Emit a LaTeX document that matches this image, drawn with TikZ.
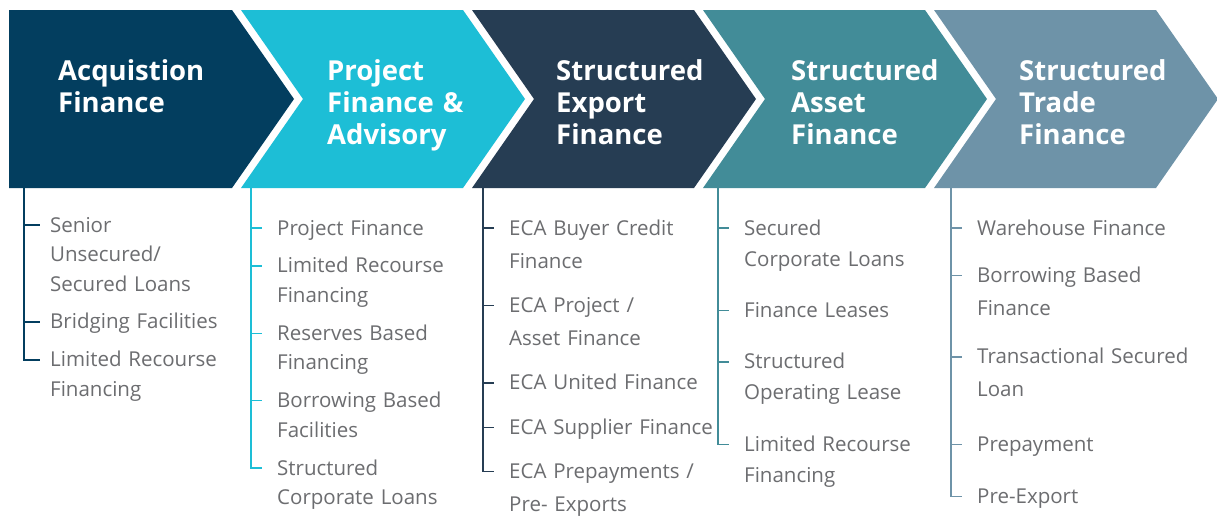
\documentclass[tikz,border=0pt]{standalone}
\usepackage{fontspec}
\setmainfont{Open Sans}
\usetikzlibrary{positioning}

\definecolor{acqblue}{RGB}{3,62,95}
\definecolor{projcyan}{RGB}{29,190,214}
\definecolor{expslate}{RGB}{38,61,83}
\definecolor{assetteal}{RGB}{66,140,152}
\definecolor{tradesteel}{RGB}{110,147,168}
\definecolor{itemgrey}{RGB}{108,109,112}

\begin{document}
\begin{tikzpicture}[x=1pt, y=-1pt,
    head/.style={anchor=base west, inner sep=0pt, text width=190pt, align=left,
                 text=white, font=\bfseries\fontsize{27.5}{32}\selectfont},
    item/.style={inner sep=0pt, text width=230pt, align=left, text=itemgrey,
                 execute at begin node=\strut, execute at end node=\strut},
    tight/.style={item, font=\fontsize{20.5}{29.5}\selectfont},
    mid/.style={item, font=\fontsize{20.5}{31}\selectfont},
    loose/.style={item, font=\fontsize{20.5}{33}\selectfont},
    tree/.style={line width=1.4pt}
  ]
  \fill[white] (0,0) rectangle (1217,515);
  \useasboundingbox (0,0) rectangle (1217,515);

  % arrow band
  \fill[acqblue] (9,10) -- (232,10) -- ++(62,89) -- ++(-62,89) -- (9,188) -- cycle;
  \fill[projcyan] (241,10) -- ++(222,0) -- ++(62,89) -- ++(-62,89) -- ++(-222,0) -- ++(62,-89) -- cycle;
  \fill[expslate] (472,10) -- ++(222,0) -- ++(62,89) -- ++(-62,89) -- ++(-222,0) -- ++(62,-89) -- cycle;
  \fill[assetteal] (703,10) -- ++(222,0) -- ++(62,89) -- ++(-62,89) -- ++(-222,0) -- ++(62,-89) -- cycle;
  \fill[tradesteel] (934,10) -- ++(222,0) -- ++(62,89) -- ++(-62,89) -- ++(-222,0) -- ++(62,-89) -- cycle;

  \node[head] (acq) at (58,80) {Acquistion\\Finance};
  \node[head] (proj) at (327,80) {Project\\Finance \&\\Advisory};
  \node[head] (exp) at (556,80) {Structured\\Export\\Finance};
  \node[head] (asset) at (791,80) {Structured\\Asset\\Finance};
  \node[head] (trade) at (1019,80) {Structured\\Trade\\Finance};

  % products under each arrow
  \node[tight, anchor=base west] (acq1) at (50,232) {Senior\\Unsecured/\\Secured Loans};
  \node[tight, below=8pt of acq1] (acq2) {Bridging Facilities};
  \node[tight, below=8pt of acq2] (acq3) {Limited Recourse\\Financing};

  \node[tight, anchor=base west] (proj1) at (277,235) {Project Finance};
  \node[tight, below=8pt of proj1] (proj2) {Limited Recourse\\Financing};
  \node[tight, below=8pt of proj2] (proj3) {Reserves Based\\Financing};
  \node[tight, below=8pt of proj3] (proj4) {Borrowing Based\\Facilities};
  \node[tight, below=8pt of proj4] (proj5) {Structured\\Corporate Loans};

  \node[loose, anchor=base west] (exp1) at (509,235) {ECA Buyer Credit\\Finance};
  \node[loose, below=11pt of exp1] (exp2) {ECA Project /\\Asset Finance};
  \node[loose, below=11pt of exp2] (exp3) {ECA United Finance};
  \node[loose, below=11pt of exp3] (exp4) {ECA Supplier Finance};
  \node[loose, below=11pt of exp4] (exp5) {ECA Prepayments /\\Pre- Exports};

  \node[mid, anchor=base west] (asset1) at (744,235) {Secured\\Corporate Loans};
  \node[mid, below=20pt of asset1] (asset2) {Finance Leases};
  \node[mid, below=20pt of asset2] (asset3) {Structured\\Operating Lease};
  \node[mid, below=20pt of asset3] (asset4) {Limited Recourse\\Financing};

  \node[loose, anchor=base west] (trade1) at (977,235) {Warehouse Finance};
  \node[loose, below=14pt of trade1] (trade2) {Borrowing Based\\Finance};
  \node[loose, below=15pt of trade2] (trade3) {Transactional Secured\\Loan};
  \node[loose, below=21pt of trade3] (trade4) {Prepayment};
  \node[loose, below=19pt of trade4] (trade5) {Pre-Export};

  % bracket lines
  \draw[tree, acqblue] ([xshift=-26pt]acq1.base west |- 0,188) |- ([xshift=-10pt,yshift=7pt]acq3.base west);
  \foreach \n in {acq1,acq2}
    \draw[tree, acqblue] ([xshift=-26pt,yshift=7pt]\n.base west) -- ([xshift=-10pt,yshift=7pt]\n.base west);

  \draw[tree, projcyan] ([xshift=-26pt]proj1.base west |- 0,188) |- ([xshift=-15pt,yshift=7pt]proj5.base west);
  \foreach \n in {proj1,proj2,proj3,proj4}
    \draw[tree, projcyan] ([xshift=-26pt,yshift=7pt]\n.base west) -- ([xshift=-15pt,yshift=7pt]\n.base west);

  \draw[tree, expslate] ([xshift=-26pt]exp1.base west |- 0,188) |- ([xshift=-15pt,yshift=7pt]exp5.base west);
  \foreach \n in {exp1,exp2,exp3,exp4}
    \draw[tree, expslate] ([xshift=-26pt,yshift=7pt]\n.base west) -- ([xshift=-15pt,yshift=7pt]\n.base west);

  \draw[tree, assetteal] ([xshift=-26pt]asset1.base west |- 0,188) |- ([xshift=-15pt,yshift=7pt]asset4.base west);
  \foreach \n in {asset1,asset2,asset3}
    \draw[tree, assetteal] ([xshift=-26pt,yshift=7pt]\n.base west) -- ([xshift=-15pt,yshift=7pt]\n.base west);

  \draw[tree, tradesteel] ([xshift=-26pt]trade1.base west |- 0,188) |- ([xshift=-15pt,yshift=7pt]trade5.base west);
  \foreach \n in {trade1,trade2,trade3,trade4}
    \draw[tree, tradesteel] ([xshift=-26pt,yshift=7pt]\n.base west) -- ([xshift=-15pt,yshift=7pt]\n.base west);
\end{tikzpicture}
\end{document}
